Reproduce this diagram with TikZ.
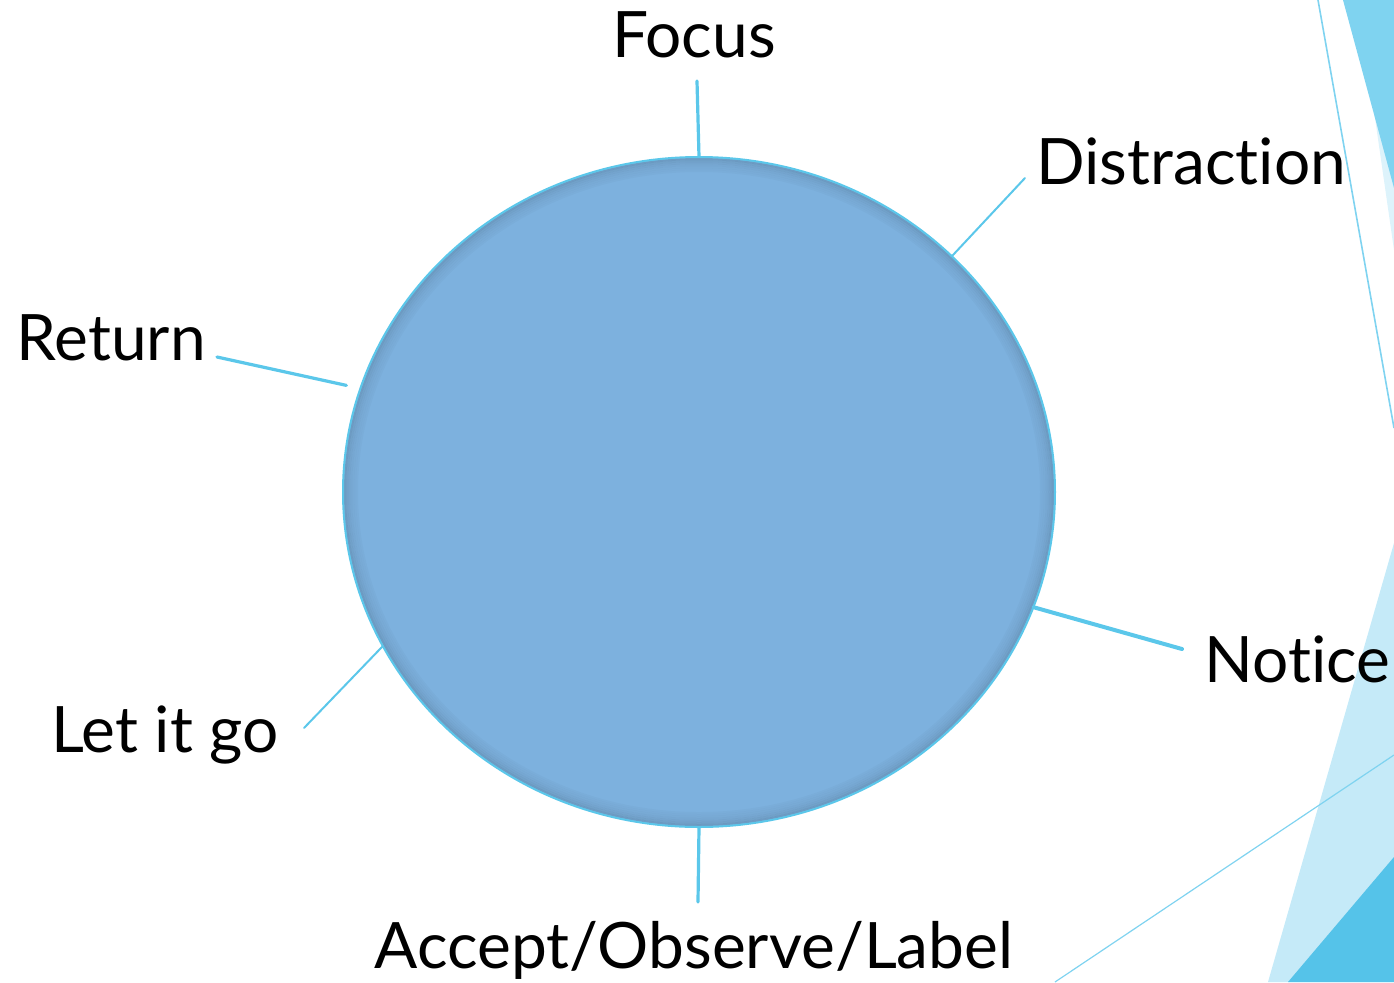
\documentclass[tikz,border=0pt]{standalone}
\usepackage{fontspec}
\setmainfont{Lato}[Ligatures={NoCommon}]
\usetikzlibrary{shapes.geometric}

\definecolor{discblue}{HTML}{7DB1DE}
\definecolor{rimblue}{HTML}{5BC7EA}
\definecolor{bandlight}{HTML}{C5EAF8}
\definecolor{banddark}{HTML}{55C3E9}
\definecolor{bandmid}{HTML}{7FD3F0}
\definecolor{bandpale}{HTML}{DDF3FB}

\begin{document}
\begin{tikzpicture}[x=0.5pt, y=-0.5pt,
	stage/.style={font=\fontsize{32}{36}\selectfont, inner sep=0pt, anchor=base west},
	spoke/.style={draw=rimblue, line width=1.6pt, line cap=round}]
\useasboundingbox (0,0) rectangle (1394,982);

% corner bands
\fill[bandpale] (1358,0) -- (1394,0) -- (1394,250) -- cycle;
\fill[bandmid] (1343,0) -- (1394,0) -- (1394,188) -- cycle;
\draw[bandmid, line width=0.8pt] (1318,0) -- (1394,428);
\fill[bandlight] (1268,982) -- (1394,543) -- (1394,982) -- cycle;
\fill[banddark] (1288,982) -- (1394,857) -- (1394,982) -- cycle;
\draw[bandmid, line width=0.6pt] (1055,982) -- (1394,755);

% the cycle
\node[ellipse, fill=discblue, minimum width=356pt, minimum height=335pt, inner sep=0pt]
	(c) at (699,492) {};
\foreach \i/\o in {1/0.12, 2/0.09, 3/0.07, 4/0.05, 5/0.04, 6/0.03, 7/0.02}
	\draw[black, opacity=\o, line width=1pt] (699,492) ellipse ({356-2*\i} and {335-2*\i});
\draw[rimblue, line width=1pt] (699,492) ellipse (356 and 335);

\node[stage, anchor=base] (focus) at (694,57) {Focus};
\node[stage] (distraction) at (1036,184) {Distraction};
\node[stage] (notice) at (1204,682) {Notice};
\node[stage, anchor=base] (accept) at (694,968) {Accept/Observe/Label};
\node[stage] (letgo) at (51,752) {Let it go};
\node[stage] (return) at (16,360) {Return};

\coordinate (f) at (697,81);
\coordinate (d) at (1025,178);
\coordinate (n) at (1182,649);
\coordinate (a) at (698,902);
\coordinate (l) at (304,728);
\coordinate (r) at (217,357);

\draw[spoke] (c.90) -- (f);
\draw[spoke, line width=1pt] (c.43.5) -- (d);
\draw[spoke, line width=2pt] (c.-19) -- (n);
\draw[spoke] (c.270) -- (a);
\draw[spoke, line width=1pt] (c.206.6) -- (l);
\draw[spoke, shorten <=7pt] (c.163.5) -- (r);
\end{tikzpicture}
\end{document}
